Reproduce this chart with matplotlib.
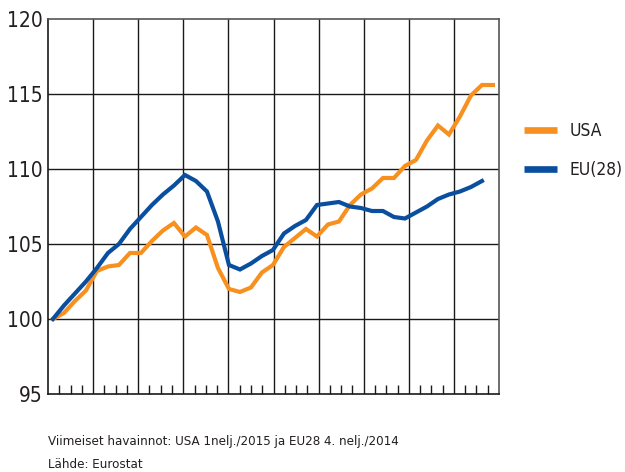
import numpy as np
import matplotlib
matplotlib.use('Agg')
import matplotlib.pyplot as plt

plt.rcParams['font.family'] = ['DejaVu Sans']
plt.rcParams['font.stretch'] = 'condensed'

# quarterly index, 2005Q1 = 100
usa = [100.0, 100.4, 101.2, 101.9, 103.2, 103.5, 103.6, 104.4, 104.4, 105.2,
       105.9, 106.4, 105.5, 106.1, 105.6, 103.4, 102.0, 101.8, 102.1, 103.1,
       103.6, 104.8, 105.4, 106.0, 105.5, 106.3, 106.5, 107.6, 108.3, 108.7,
       109.4, 109.4, 110.2, 110.6, 111.9, 112.9, 112.3, 113.5, 114.9, 115.6,
       115.6]
eu28 = [100.0, 100.9, 101.7, 102.5, 103.4, 104.4, 105.0, 106.0, 106.8, 107.6,
        108.3, 108.9, 109.6, 109.2, 108.5, 106.5, 103.6, 103.3, 103.7, 104.2,
        104.6, 105.7, 106.2, 106.6, 107.6, 107.7, 107.8, 107.5, 107.4, 107.2,
        107.2, 106.8, 106.7, 107.1, 107.5, 108.0, 108.3, 108.5, 108.8, 109.2]
year_labels = ['05', '06', '07', '08', '09', '10', '11', '12', '13', '14']
series_names = ['USA', 'EU(28)']
note = 'Viimeiset havainnot: USA 1nelj./2015 ja EU28 4. nelj./2014'
source = 'Lähde: Eurostat'

orange = '#f7901e'
blue = '#0a4f9f'
gridc = '#1a1a1a'
textc = '#231f20'

fig = plt.figure(figsize=(6.25, 4.72), dpi=100)
ax = fig.add_axes([0.0768, 0.1653, 0.7216, 0.7944])

# x in quarter steps; year blocks are a bit wider than 4 steps in the original
x0 = -0.45
yw = 4.1
bounds = [x0 + yw * k for k in range(len(year_labels) + 1)]
quarters = [b + yw * q / 4 for b in bounds[:-1] for q in (1, 2, 3)]
centers = [b + yw / 2 for b in bounds[:-1]]

ax.plot(np.arange(len(usa)), usa, color=orange, lw=3.0, solid_joinstyle='miter',
        label=series_names[0], zorder=3)
ax.plot(np.arange(len(eu28)), eu28, color=blue, lw=3.0, solid_joinstyle='miter',
        label=series_names[1], zorder=3)

ax.set_xlim(bounds[0], bounds[-1])
ax.set_ylim(95, 120)

for b in bounds[1:-1]:
    ax.axvline(b, color=gridc, lw=1.0, zorder=1)
for v in (100, 105, 110, 115):
    ax.axhline(v, color=gridc, lw=1.0, zorder=1)

ax.set_xticks(quarters)
ax.set_xticklabels([])
ax.tick_params(axis='x', which='major', direction='in', length=6.5, width=1.0,
               color=gridc)
ax.set_xticks(centers, minor=True)
ax.set_xticklabels(year_labels, minor=True, fontsize=12)
ax.tick_params(axis='x', which='minor', length=0, pad=7, labelcolor=textc)

ax.set_yticks([95, 100, 105, 110, 115, 120])
ax.tick_params(axis='y', length=0, pad=4, labelsize=15, labelcolor=textc)

for s in ('left', 'bottom'):
    ax.spines[s].set_color(gridc)
    ax.spines[s].set_linewidth(1.2)
for s in ('top', 'right'):
    ax.spines[s].set_color('#555555')
    ax.spines[s].set_linewidth(1.2)

leg = ax.legend(loc='center left', bbox_to_anchor=(1.055, 0.649), frameon=False,
                fontsize=12.5, handlelength=1.9, handletextpad=0.75,
                labelspacing=1.2, borderpad=0, borderaxespad=0,
                labelcolor=textc)
for h in leg.get_lines():
    h.set_linewidth(4.8)
    h.set_solid_capstyle('butt')

fig.text(0.0768, 0.064, note, fontsize=9.5, color=textc, va='center')
fig.text(0.0768, 0.015, source, fontsize=9.5, color=textc, va='center')

plt.savefig('out.png', dpi=100)
